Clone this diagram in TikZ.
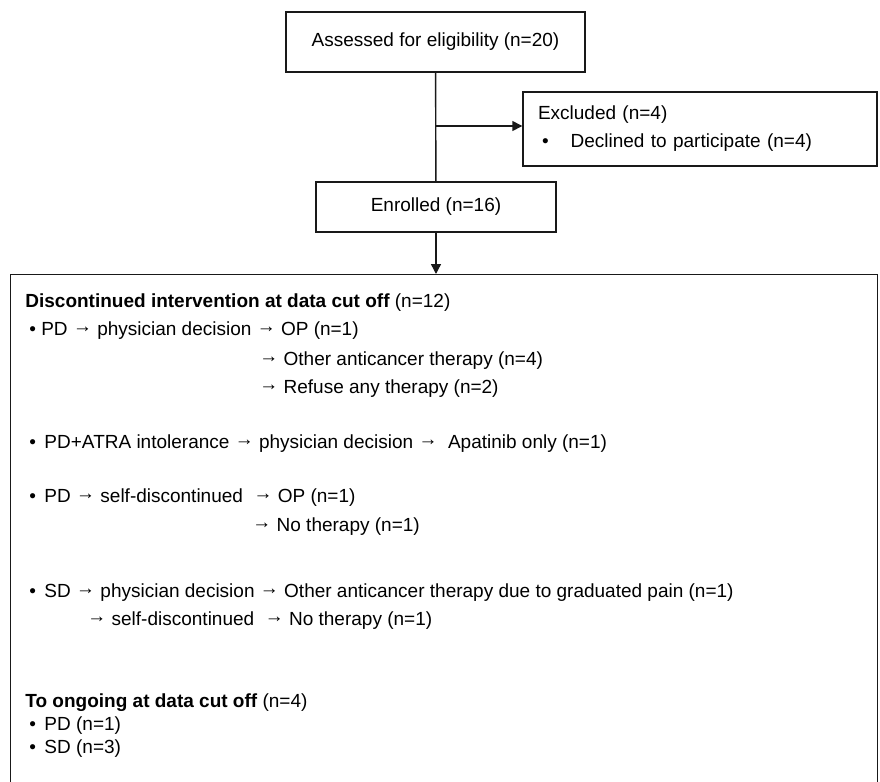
\documentclass[tikz,border=0pt]{standalone}
\usepackage{fontspec}
\setmainfont{Liberation Sans}
\usetikzlibrary{arrows.meta,positioning}
\newcommand{\flecha}{\raisebox{1.5pt}{→}}
\tikzset{
  caja/.style={
    draw=black!90,
    line width=.7pt,
    align=center,
    inner sep=0pt,
    font=\fontsize{9.5}{11}\selectfont
  },
  linea/.style={
    anchor=base west,
    inner sep=0pt,
    font=\fontsize{9.5}{11}\selectfont
  },
  conector/.style={
    line width=.7pt,
    black!90
  },
  arrow/.style={
    -{Triangle[length=5pt,width=5pt]},
    line width=.7pt,
    black!90
  }
}

\begin{document}
\begin{tikzpicture}[x=.5pt,y=-.5pt]
\useasboundingbox (0,0) rectangle (880,782);
\clip (0,0) rectangle (880,782);
\node[caja,minimum width=149.5pt,minimum height=30pt] (asse) at (435.5,42) {Assessed for eligibility (n=20)};
\node[caja,align=left,text width=162pt,inner xsep=7.5pt,minimum height=37pt] (excl) at (700,129) {Excluded (n=4)\\[3pt]\hspace*{2pt}•\hspace{11pt}Declined to participate (n=4)};
\node[caja,minimum width=120pt,minimum height=25pt] (enro) at (436,207) {Enrolled (n=16)};
\node[caja,anchor=north west,minimum width=433.5pt,minimum height=270pt] (disc) at (10,274) {};
\coordinate (rama) at (436,126);
\draw[conector] (asse) -- (enro);
\draw[arrow] (rama) -- (rama -| excl.west);
\draw[arrow] (enro.south) -- (enro.south |- disc.north);
% discontinued
\node[linea] (t1) at (25,307) {\textbf{Discontinued intervention at data cut off} (n=12)};
\node[linea] (t2) at (29,335) {• PD \flecha{} physician decision \flecha{} OP (n=1)};
\node[linea] (t3) at (259,365) {\flecha{} Other anticancer therapy (n=4)};
\node[linea] (t4) at (259,393) {\flecha{} Refuse any therapy (n=2)};
\node[linea] (t5) at (29,448) {• \,PD+ATRA intolerance \flecha{} physician decision \flecha{} ~Apatinib only (n=1)};
\node[linea] (t6) at (29,502) {• \,PD \flecha{} self-discontinued ~\flecha{} OP (n=1)};
\node[linea] (t7) at (252,531) {\flecha{} No therapy (n=1)};
\node[linea] (t8) at (29,597) {• \,SD \flecha{} physician decision \flecha{} Other anticancer therapy due to graduated pain (n=1)};
\node[linea] (t9) at (87,625) {\flecha{} self-discontinued ~\flecha{} No therapy (n=1)};
% ongoing
\node[linea] (t10) at (25,707) {\textbf{To ongoing at data cut off} (n=4)};
\node[linea] (t11) at (29,730) {• \,PD (n=1)};
\node[linea] (t12) at (29,753) {• \,SD (n=3)};
\end{tikzpicture}
\end{document}
